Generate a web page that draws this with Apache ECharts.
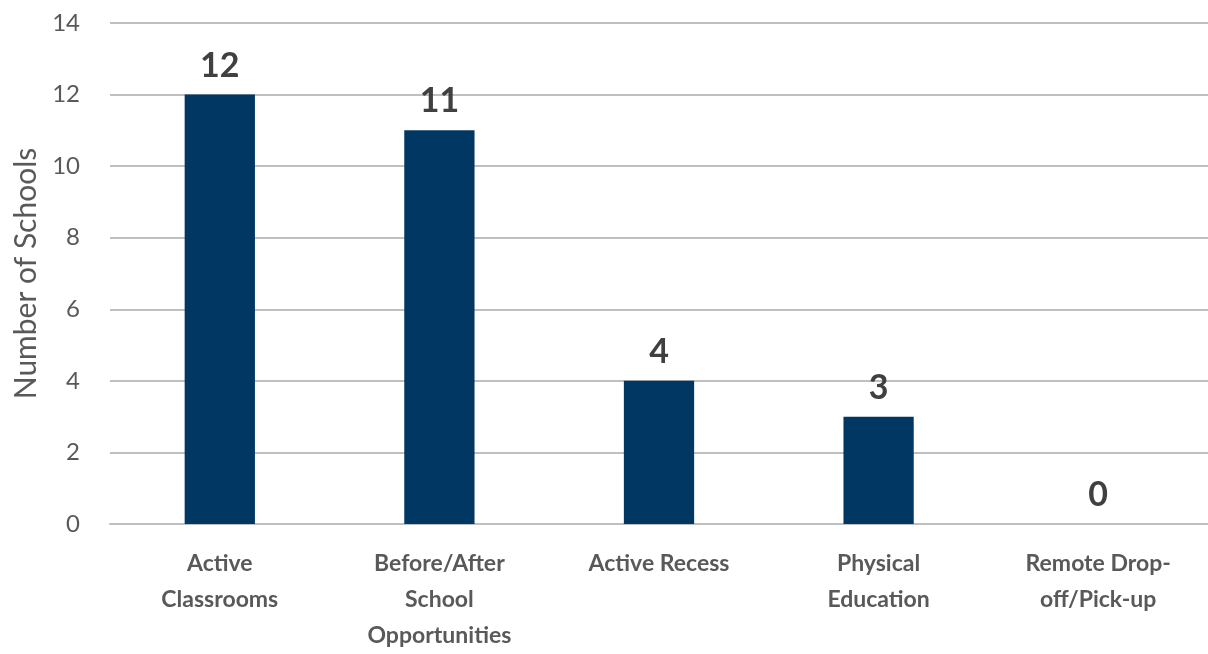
<!DOCTYPE html>
<html>
<head>
<meta charset="utf-8">
<script src="https://cdn.jsdelivr.net/npm/echarts@6/dist/echarts.min.js"></script>
<style>html,body{margin:0;padding:0;background:#fff;}#c{width:1208px;height:654px;}</style>
</head>
<body>
<div id="c"></div>
<script>
var categories = ["Active\nClassrooms", "Before/After\nSchool\nOpportunities", "Active Recess", "Physical\nEducation", "Remote Drop-\noff/Pick-up"];
var values = [12, 11, 4, 3, 0];
var yTicks = [0, 2, 4, 6, 8, 10, 12, 14];

var chart = echarts.init(document.getElementById('c'));
chart.setOption({
  animation: false,
  grid: { left: 110, right: 0, top: 23, bottom: 123 },
  xAxis: {
    type: 'category',
    data: categories,
    axisLine: { show: true, lineStyle: { color: '#bfbfbf', width: 2 } },
    axisTick: { show: false },
    axisLabel: {
      interval: 0, margin: 22,
      fontFamily: 'Lato', fontWeight: 'bold', fontSize: 23, color: '#595959', lineHeight: 36
    }
  },
  yAxis: {
    type: 'value', min: yTicks[0], max: yTicks[yTicks.length - 1], interval: 2,
    name: 'Number of Schools', nameLocation: 'middle', nameGap: 68, nameRotate: 90,
    nameTextStyle: { fontFamily: 'Lato', fontSize: 30, color: '#595959' },
    axisLine: { show: false }, axisTick: { show: false },
    axisLabel: { fontFamily: 'Lato', fontSize: 24, color: '#595959', margin: 30 },
    splitLine: { lineStyle: { color: '#bfbfbf', width: 2 } }
  },
  series: [{
    type: 'bar', data: values, barWidth: '32%',
    itemStyle: { color: '#003763' },
    label: {
      show: true, position: 'top', distance: 12,
      fontFamily: 'Lato', fontWeight: 'bold', fontSize: 34, color: '#404040'
    }
  }]
});
</script>
</body>
</html>
